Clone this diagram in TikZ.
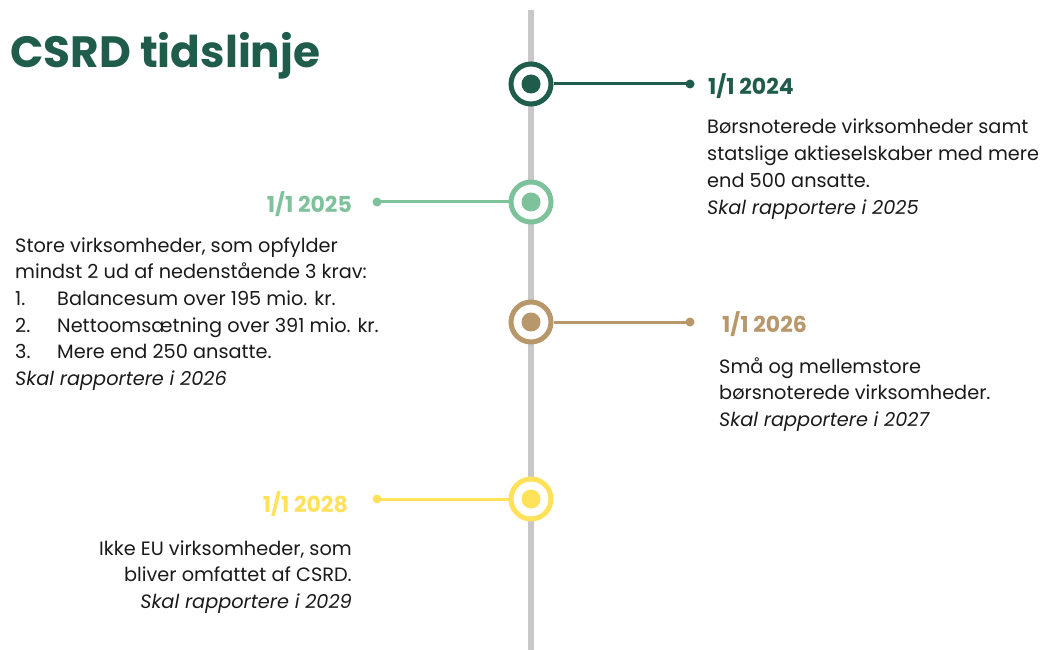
\documentclass[tikz,border=0pt]{standalone}
\usepackage{fontspec}
\setmainfont{Poppins}
\definecolor{dkgreen}{HTML}{1F5C4B}
\definecolor{ltgreen}{HTML}{7EC29C}
\definecolor{tan}{HTML}{B8976A}
\definecolor{yell}{HTML}{FFE15A}
\definecolor{axis}{HTML}{C8C8C8}
\definecolor{txt}{HTML}{1A1A1A}
\newcommand\leftlines[1]{\vtop{\halign{##\hfil\cr#1\crcr}}}
\newcommand\rightlines[1]{\vtop{\halign{\hfil##\cr#1\crcr}}}
\newcommand\numitem[2]{\makebox[42pt][l]{#1}#2}
\tikzset{
  ring/.style={draw=#1, line width=5pt, fill=white, circle, minimum size=40pt, inner sep=0pt},
  core/.style={fill=#1, circle, minimum size=19pt, inner sep=0pt},
  conn/.style={draw=#1, line width=3pt},
  enddot/.style={fill=#1, circle, minimum size=9pt, inner sep=0pt},
  datelbl/.style={text=#1, font=\fontsize{22}{26}\selectfont\bfseries, inner sep=0pt},
  body/.style={text=txt, font=\fontsize{19.3}{26.7}\selectfont, inner sep=0pt},
}
\begin{document}
\begin{tikzpicture}[x=1pt,y=-1pt]
\useasboundingbox (0,0) rectangle (1045,650);
\coordinate (top) at (531,10);
\coordinate (bot) at (531,650);
\draw[axis, line width=6pt] (top) -- (bot);
\node[text=dkgreen, font=\fontsize{43.8}{52}\selectfont\bfseries, anchor=base west, inner sep=0pt] (title) at (10,68) {CSRD tidslinje};

% 2024
\node[ring=dkgreen] (r1) at (531,84) {};
\node[core=dkgreen] (c1) at (531,84) {};
\node[enddot=dkgreen] (d1) at (690,84) {};
\draw[conn=dkgreen] (r1.east) -- (d1.center);
\node[datelbl=dkgreen, anchor=base west] (l1) at (708,95) {1/1 2024};
\node[body, anchor=base west] (t1) at (707,134) {\leftlines{Børsnoterede virksomheder samt\cr statslige aktieselskaber med mere\cr end 500 ansatte.\cr \itshape Skal rapportere i 2025}};

% 2025
\node[ring=ltgreen] (r2) at (531,202) {};
\node[core=ltgreen] (c2) at (531,202) {};
\node[enddot=ltgreen] (d2) at (377,202) {};
\draw[conn=ltgreen] (r2.west) -- (d2.center);
\node[datelbl=ltgreen, anchor=base east] (l2) at (352,213) {1/1 2025};
\node[body, anchor=base west] (t2) at (15,252) {\leftlines{Store virksomheder, som opfylder\cr mindst 2 ud af nedenstående 3 krav:\cr \numitem{1.}{Balancesum over 195 mio. kr.}\cr \numitem{2.}{Nettoomsætning over 391 mio. kr.}\cr \numitem{3.}{Mere end 250 ansatte.}\cr \itshape Skal rapportere i 2026}};

% 2026
\node[ring=tan] (r3) at (531,322) {};
\node[core=tan] (c3) at (531,322) {};
\node[enddot=tan] (d3) at (690,322) {};
\draw[conn=tan] (r3.east) -- (d3.center);
\node[datelbl=tan, anchor=base west] (l3) at (722,332) {1/1 2026};
\node[body, anchor=base west] (t3) at (719,373) {\leftlines{Små og mellemstore\cr børsnoterede virksomheder.\cr \itshape Skal rapportere i 2027}};

% 2028
\node[ring=yell] (r4) at (531,499) {};
\node[core=yell] (c4) at (531,499) {};
\node[enddot=yell] (d4) at (377,499) {};
\draw[conn=yell] (r4.west) -- (d4.center);
\node[datelbl=yell, anchor=base east] (l4) at (348,512) {1/1 2028};
\node[body, anchor=base east] (t4) at (352,555) {\rightlines{Ikke EU virksomheder, som\cr bliver omfattet af CSRD.\cr \itshape Skal rapportere i 2029}};
\end{tikzpicture}
\end{document}
